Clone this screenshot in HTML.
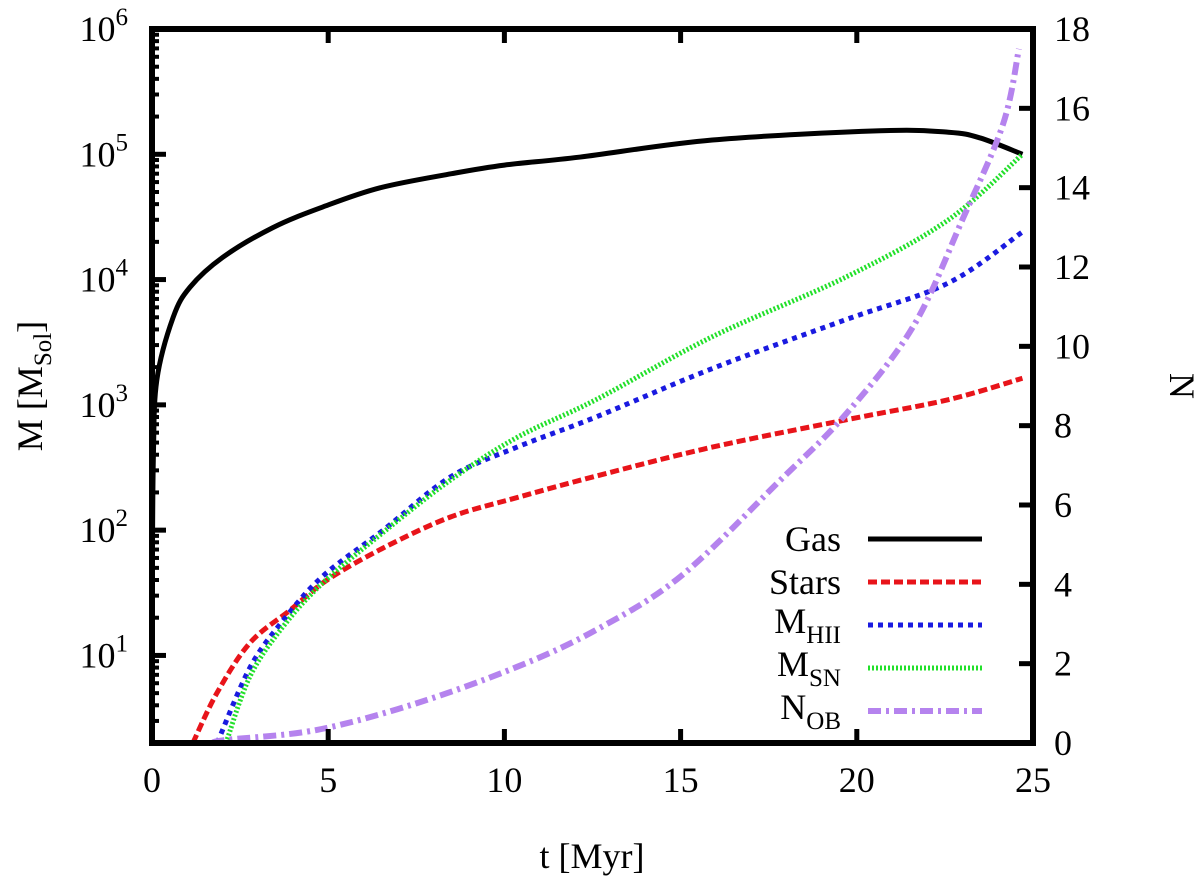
<!DOCTYPE html>
<html><head><meta charset="utf-8"><style>
body{margin:0;background:#fff}
svg{display:block}
text{font-family:"Liberation Serif",serif;fill:#000}
</style></head><body>
<svg id="chart" width="1200" height="878" xmlns="http://www.w3.org/2000/svg">
<g id="series"></g>
<rect x="152" y="29" width="881" height="714" fill="none" stroke="#000" stroke-width="6"/>
<g id="axes"></g>
<text x="592" y="868" font-size="36" text-anchor="middle">t [Myr]</text>
<text transform="translate(42,386) rotate(-90)" font-size="36" text-anchor="middle">M [M<tspan font-size="25" dy="9">Sol</tspan><tspan dy="-9">]</tspan></text>
<text transform="translate(1170,386) rotate(90)" font-size="36" text-anchor="middle">N</text>
<g id="legend"></g>
</svg>
<script>
const tGas=[0,0.01,0.04,0.14,0.6,1.08,2.0,3.43,4.85,6.47,8.5,10,12.15,15.9,20.66,22.6,23.5,24.7];
const mGas=[2,40,400,1600,5000,8700,15000,26000,38000,54000,70000,82000,95000,130000,154000,150000,135000,100000];
const tStars=[1.16,1.84,2.78,3.92,4.97,6.56,8.46,10.36,12.6,15.9,19.7,22.6,24.7];
const mStars=[2,5,12.6,23,40,72,127,182,270,460,760,1100,1630];
const tHII=[1.85,2.78,3.72,4.85,6.56,8.46,10.36,12.6,15.9,19.7,22.6,24.7];
const mHII=[2,8,19,43,100,265,460,800,1950,4800,9400,24000];
const tSN=[2.1,2.78,3.72,4.85,6.56,8.46,10.36,12.6,15.9,19.7,22.6,24.7];
const mSN=[2,6.8,17,38,96,250,550,1100,3500,10500,30000,100000];
const tOB=[1.7,2.13,4.68,7.5,10.36,12.6,15,17.8,19.7,21.6,23.0,24.15,24.6];
const nOB=[0,0.08,0.33,1.0,1.92,2.85,4.2,6.6,8.3,10.5,13.2,15.6,17.5];
const xTicks=[0,5,10,15,20,25];
const yDecades=[1,2,3,4,5,6];
const y2Ticks=[0,2,4,6,8,10,12,14,16,18];

const NS="http://www.w3.org/2000/svg";
const X0=152,X1=1033,Y0=743,Y1=29;
const xs=t=>X0+(t/25)*(X1-X0);
const ys=m=>Y0-(Math.log10(m)-Math.log10(2))/(6-Math.log10(2))*(Y0-Y1);
const y2s=n=>Y0-(n/18)*(Y0-Y1);
function el(tag,attrs,parent){const e=document.createElementNS(NS,tag);for(const k in attrs)e.setAttribute(k,attrs[k]);parent.appendChild(e);return e;}
const axes=document.getElementById('axes');
xTicks.forEach(t=>{
  const x=xs(t);
  const tk=el('path',{d:`M${x},${Y0}v-14M${x},${Y1}v14`,stroke:'#000','stroke-width':5},axes);
  
  
  const lb=el('text',{x:x,y:792,'font-size':36,'text-anchor':'middle'},axes);lb.textContent=t;
  
  
});
yDecades.forEach(d=>{
  const y=ys(Math.pow(10,d));
  const tk=el('path',{d:`M${X0},${y}h14`,stroke:'#000','stroke-width':5},axes);
  
  
  const lb=el('text',{x:128,y:y+12,'font-size':36,'text-anchor':'end'},axes);
  lb.innerHTML=`10<tspan font-size="25" dy="-16">${d}</tspan>`;
  
  
});
for(let d=0;d<6;d++)for(let k=2;k<10;k++){const m=k*Math.pow(10,d);if(m<=2)continue;const y=ys(m);
  const tk=el('path',{d:`M${X0},${y}h7`,stroke:'#000','stroke-width':4},axes);
  
  }
y2Ticks.forEach(n=>{
  const y=y2s(n);
  const tk=el('path',{d:`M${X1},${y}h-14`,stroke:'#000','stroke-width':5},axes);
  
  
  const lb=el('text',{x:1054,y:y+12,'font-size':36},axes);lb.textContent=n;
  
  
});
const series=document.getElementById('series');
function path(tArr,vArr,yf){
  const p=tArr.map((t,i)=>[xs(t),yf(vArr[i])]);
  let d=`M${p[0][0]},${p[0][1]}`;
  for(let i=0;i<p.length-1;i++){
    const p0=p[Math.max(i-1,0)],p1=p[i],p2=p[i+1],p3=p[Math.min(i+2,p.length-1)];
    const c1=[p1[0]+(p2[0]-p0[0])/6,p1[1]+(p2[1]-p0[1])/6];
    const c2=[p2[0]-(p3[0]-p1[0])/6,p2[1]-(p3[1]-p1[1])/6];
    d+=`C${c1[0]},${c1[1]} ${c2[0]},${c2[1]} ${p2[0]},${p2[1]}`;
  }
  return d;
}
const S=[
 {n:'gas',t:tGas,v:mGas,y:ys,c:'#000',w:5,da:'',label:'Gas'},
 {n:'stars',t:tStars,v:mStars,y:ys,c:'#e8141a',w:5,da:'9 4',label:'Stars'},
 {n:'m-hii',t:tHII,v:mHII,y:ys,c:'#1a1ae0',w:5,da:'5 5',label:'M',sub:'HII'},
 {n:'m-sn',t:tSN,v:mSN,y:ys,c:'#22e02a',w:5,da:'2 2',label:'M',sub:'SN'},
 {n:'n-ob',t:tOB,v:nOB,y:y2s,c:'#b583ee',w:6,da:'13 5 3 5',label:'N',sub:'OB'}
];
const leg=document.getElementById('legend');
const rows=[539,582,625,668,711];
S.forEach((s,i)=>{
  const pth=el('path',{d:path(s.t,s.v,s.y),fill:'none',stroke:s.c,'stroke-width':s.w,'stroke-dasharray':s.da},series);
  
  
  const y=rows[i];
  const ln=el('path',{d:`M868,${y}H982`,stroke:s.c,'stroke-width':s.w,'stroke-dasharray':s.da},leg);
  
  
  const tx=el('text',{x:841,y:s.sub?y+8:y+12,'font-size':36,'text-anchor':'end'},leg);
  tx.innerHTML=s.sub?`${s.label}<tspan font-size="25" dy="10">${s.sub}</tspan>`:s.label;
  
  
});
</script>
</body></html>
